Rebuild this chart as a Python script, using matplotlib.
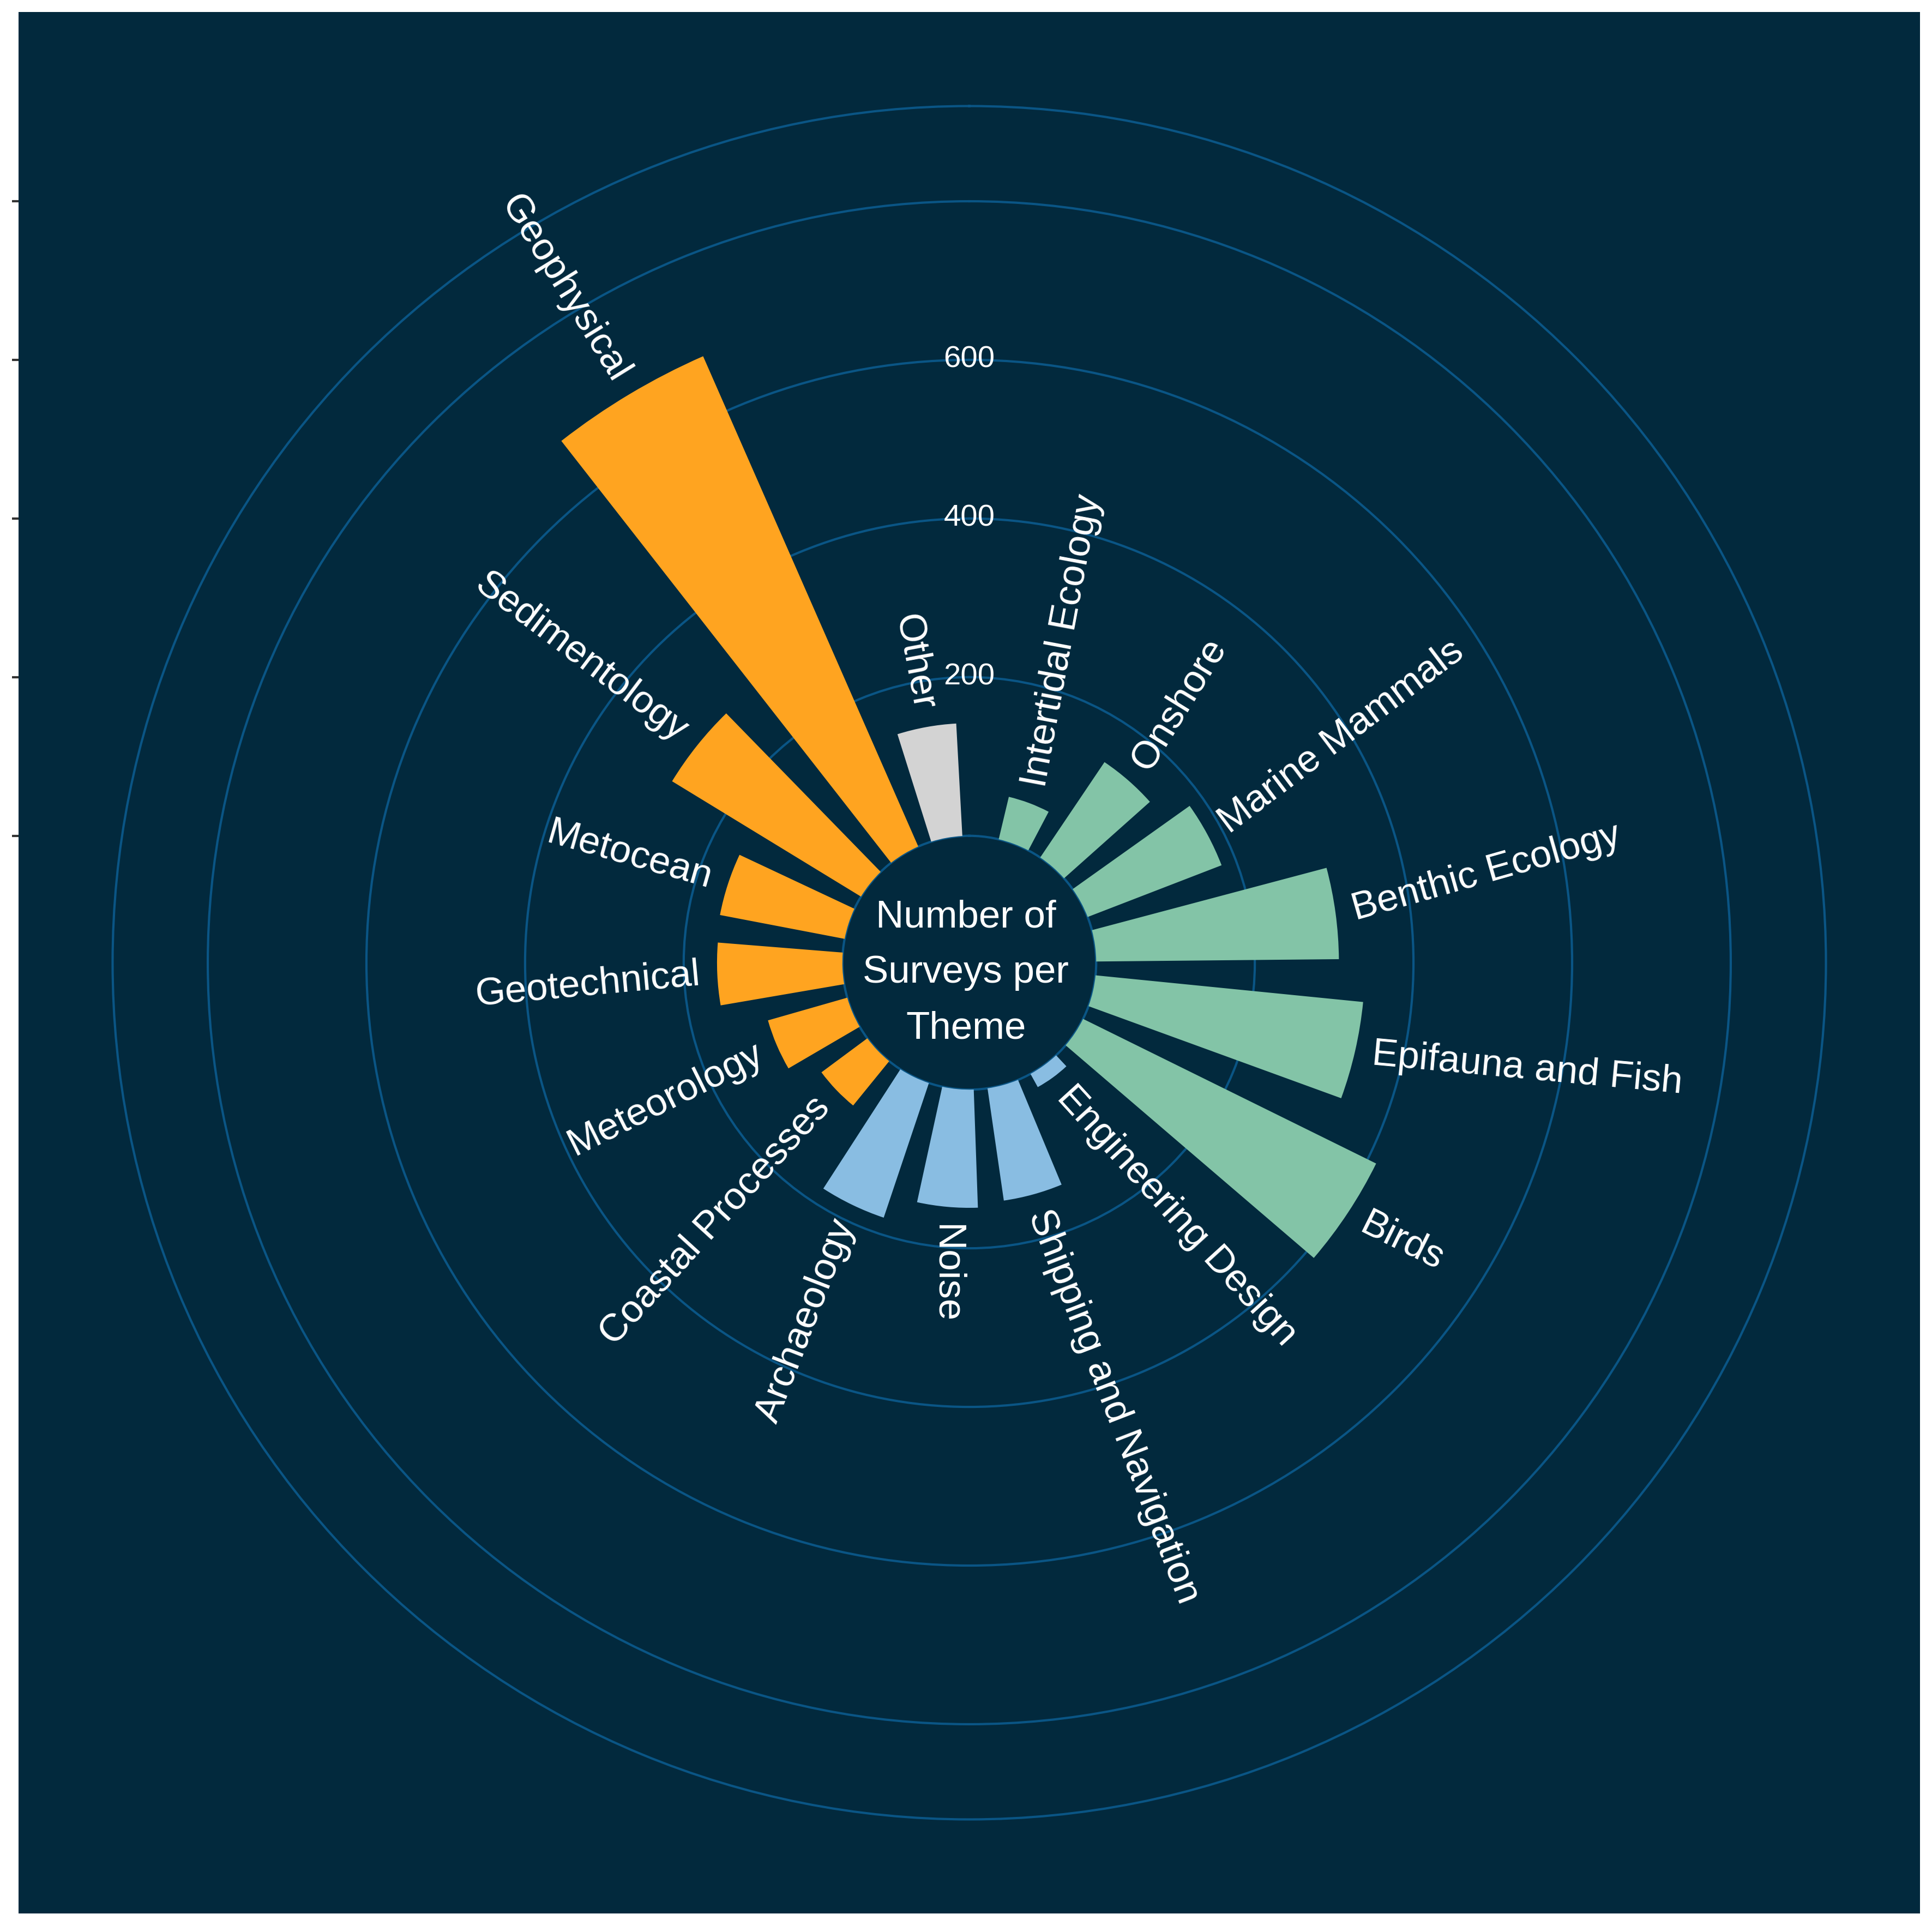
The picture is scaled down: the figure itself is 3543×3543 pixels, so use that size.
import matplotlib
matplotlib.use("Agg")
import matplotlib.pyplot as plt
import numpy as np

plt.rcParams['font.family'] = ['Liberation Sans', 'DejaVu Sans']

# survey counts per theme, listed clockwise from the top
themes = ["Intertidal Ecology", "Onshore", "Marine Mammals", "Benthic Ecology",
          "Epifauna and Fish", "Birds", "Engineering Design",
          "Shipping and Navigation", "Noise", "Archaeology", "Coastal Processes",
          "Meteorology", "Geotechnical", "Metocean", "Sedimentology",
          "Geophysical", "Other"]
counts = [55, 145, 181, 306, 339, 412, 19, 143, 149, 179, 72, 104, 158, 160,
          279, 675, 142]
groups = ["ecology"] * 6 + ["human"] * 4 + ["physical"] * 6 + ["other"]

group_colors = {"ecology": "#83C4A7", "human": "#89BDE2",
                "physical": "#FFA420", "other": "#D3D3D3"}
r_ticks = [0, 200, 400, 600, 800]
r_labels = [200, 400, 600]

BG = "#02293D"
GRID = "#0A5585"
r_min, r_max = -160, 920

W = H = 3543
DPI = 300
fig = plt.figure(figsize=(W / DPI, H / DPI), dpi=DPI, facecolor="white")

# dark backdrop with the radial ticks on its left edge
bg_left, bg_bottom, bg_size = 34, 34, 3487
cx = cy = 1777.5
radius_px = 1571
scale = radius_px / (r_max - r_min)
bg = fig.add_axes([bg_left / W, bg_bottom / H, bg_size / W, bg_size / H])
bg.set_facecolor(BG)
bg.set_ylim(r_min - (cy - bg_bottom) / scale,
            r_min + (bg_bottom + bg_size - cy) / scale)
bg.set_yticks(r_ticks)
bg.set_yticklabels([])
bg.set_xticks([])
bg.tick_params(axis="y", length=2.9, width=1.0, color="#333333", direction="out")
for s in bg.spines.values():
    s.set_visible(False)

# polar chart on top
ax = fig.add_axes([(cx - radius_px) / W, (cy - radius_px) / H,
                   2 * radius_px / W, 2 * radius_px / H], projection="polar")
ax.set_facecolor("none")
ax.set_theta_zero_location("N")
ax.set_theta_direction(-1)
ax.set_ylim(r_min, r_max)
ax.set_axisbelow(True)

n = len(themes)
angles = 2 * np.pi / 17.5 * (np.arange(n) + 1)
# label rotation uses an even split of the circle
label_angles = 2 * np.pi / n * (np.arange(n) + 0.5)
colors = [group_colors[g] for g in groups]
ax.bar(angles, counts, width=0.25, color=colors, edgecolor="none", zorder=2)

ax.set_xticks([])
ax.set_yticks(r_ticks)
ax.set_yticklabels([])
ax.tick_params(axis="y", length=0)
ax.grid(True, color=GRID, linewidth=1.0)
ax.spines["polar"].set_color(GRID)
ax.spines["polar"].set_linewidth(1.0)

for v in r_labels:
    ax.text(0, v, str(v), ha="center", va="center", color="white",
            fontsize=13.5, zorder=3)

for ang, lab_ang, val, name in zip(angles, label_angles, counts, themes):
    deg = np.rad2deg(lab_ang)
    if lab_ang > np.pi + 1e-6:
        rot, ha = 270 - deg, "right"
    else:
        rot, ha = 90 - deg, "left"
    ax.text(ang, val + 22, name, rotation=rot, rotation_mode="anchor",
            ha=ha, va="center", color="white", fontsize=17, zorder=3)

ax.text(0.498, 0.494, "Number of\nSurveys per\nTheme", transform=ax.transAxes,
        ha="center", va="center", color="white", fontsize=17,
        linespacing=1.7, zorder=3)

fig.savefig("out.png", dpi=DPI, facecolor="white")
